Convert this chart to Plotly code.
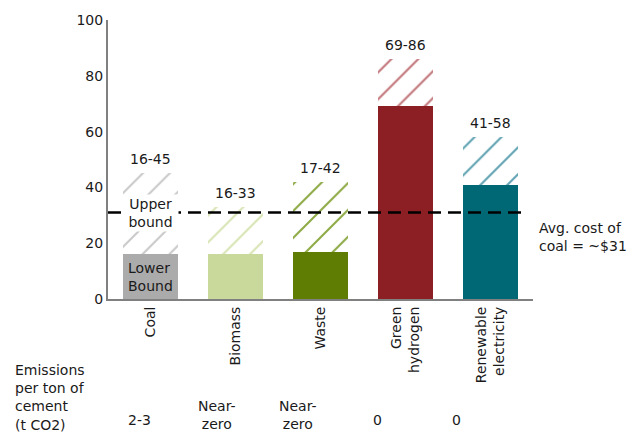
import plotly.graph_objects as go

# Cost ranges per fuel option ($/t)
fuels = ["Coal", "Biomass", "Waste", "Green<br>hydrogen", "Renewable<br>electricity"]
low_cost = [16, 16, 17, 69, 41]
high_cost = [45, 33, 42, 86, 58]
solid_colors = ["#ABABAB", "#C9D99C", "#5E7D02", "#8B1F24", "#006874"]
hatch_colors = ["#C9C9C9", "#D8E4B4", "#8DAA45", "#C2757A", "#5FA2B2"]
emissions = ["2-3", "Near-<br>zero", "Near-<br>zero", "0", "0"]
coal_avg = 31

FONT = "DejaVu Sans"
TXT = "#1a1a1a"

upper_part = [h - l for h, l in zip(high_cost, low_cost)]
range_labels = [f"{l}-{h}" for l, h in zip(low_cost, high_cost)]

fig = go.Figure()
fig.add_trace(go.Bar(
    x=fuels, y=low_cost,
    marker=dict(color=solid_colors, line=dict(width=0)),
    width=0.65, hoverinfo="skip", showlegend=False,
))
fig.add_trace(go.Bar(
    x=fuels, y=upper_part,
    marker=dict(
        color=hatch_colors, line=dict(width=0),
        pattern=dict(shape="/", size=19, solidity=0.11, fillmode="replace", bgcolor="white"),
    ),
    width=0.65, hoverinfo="skip", showlegend=False,
))

# Average coal cost reference line
fig.add_shape(type="line", xref="paper", yref="y", x0=0, x1=0.985, y0=coal_avg, y1=coal_avg,
              line=dict(color="black", width=2.5, dash="13px,7px"), layer="above")

annotations = []
for f, h, lab in zip(fuels, high_cost, range_labels):
    annotations.append(dict(x=f, y=h, xref="x", yref="y", text=lab, showarrow=False,
                            yanchor="bottom", yshift=4, font=dict(size=14, color=TXT, family=FONT)))

annotations.append(dict(x=fuels[0], y=(high_cost[0] + low_cost[0]) / 2 + 0.5, xref="x", yref="y",
                        text="Upper<br>bound", showarrow=False, bgcolor="white", width=53,
                        borderpad=1, font=dict(size=14, color=TXT, family=FONT)))
annotations.append(dict(x=fuels[0], y=low_cost[0] / 2, xref="x", yref="y",
                        text="Lower<br>Bound", showarrow=False, align="left",
                        font=dict(size=14, color=TXT, family=FONT)))

annotations.append(dict(x=1.009, y=0.223, xref="paper", yref="paper", xanchor="left", yanchor="middle",
                        align="left", text="Avg. cost of<br>coal = ~$31", showarrow=False,
                        font=dict(size=14, color=TXT, family=FONT)))

annotations.append(dict(x=-0.224, y=-0.352, xref="paper", yref="paper", xanchor="left", yanchor="middle",
                        align="left", text="Emissions<br>per ton of<br>cement<br>(t CO2)", showarrow=False,
                        font=dict(size=14, color=TXT, family=FONT)))

em_x = [0.075, 0.257, 0.447, 0.633, 0.821]
for xp, e in zip(em_x, emissions):
    yp = -0.416 if "<br>" in e else -0.433
    annotations.append(dict(x=xp, y=yp, xref="paper", yref="paper", xanchor="center", yanchor="middle",
                            text=e, showarrow=False, font=dict(size=14, color=TXT, family=FONT)))

fig.update_layout(
    width=630, height=439,
    margin=dict(l=108, r=97, t=16, b=140),
    barmode="stack",
    plot_bgcolor="white", paper_bgcolor="white",
    font=dict(family=FONT, size=14, color=TXT),
    annotations=annotations,
)
fig.update_xaxes(range=[-0.5, 4.5], tickangle=-90, showline=True, linecolor="#808080", linewidth=2,
                 ticks="", showgrid=False, tickfont=dict(size=14, color=TXT, family=FONT))
fig.update_yaxes(range=[0, 100], tickvals=[0, 20, 40, 60, 80, 100], showline=True, linecolor="#808080",
                 linewidth=2, ticks="", showgrid=False, zeroline=False,
                 tickfont=dict(size=14, color=TXT, family=FONT))

fig.write_html("out.html")
